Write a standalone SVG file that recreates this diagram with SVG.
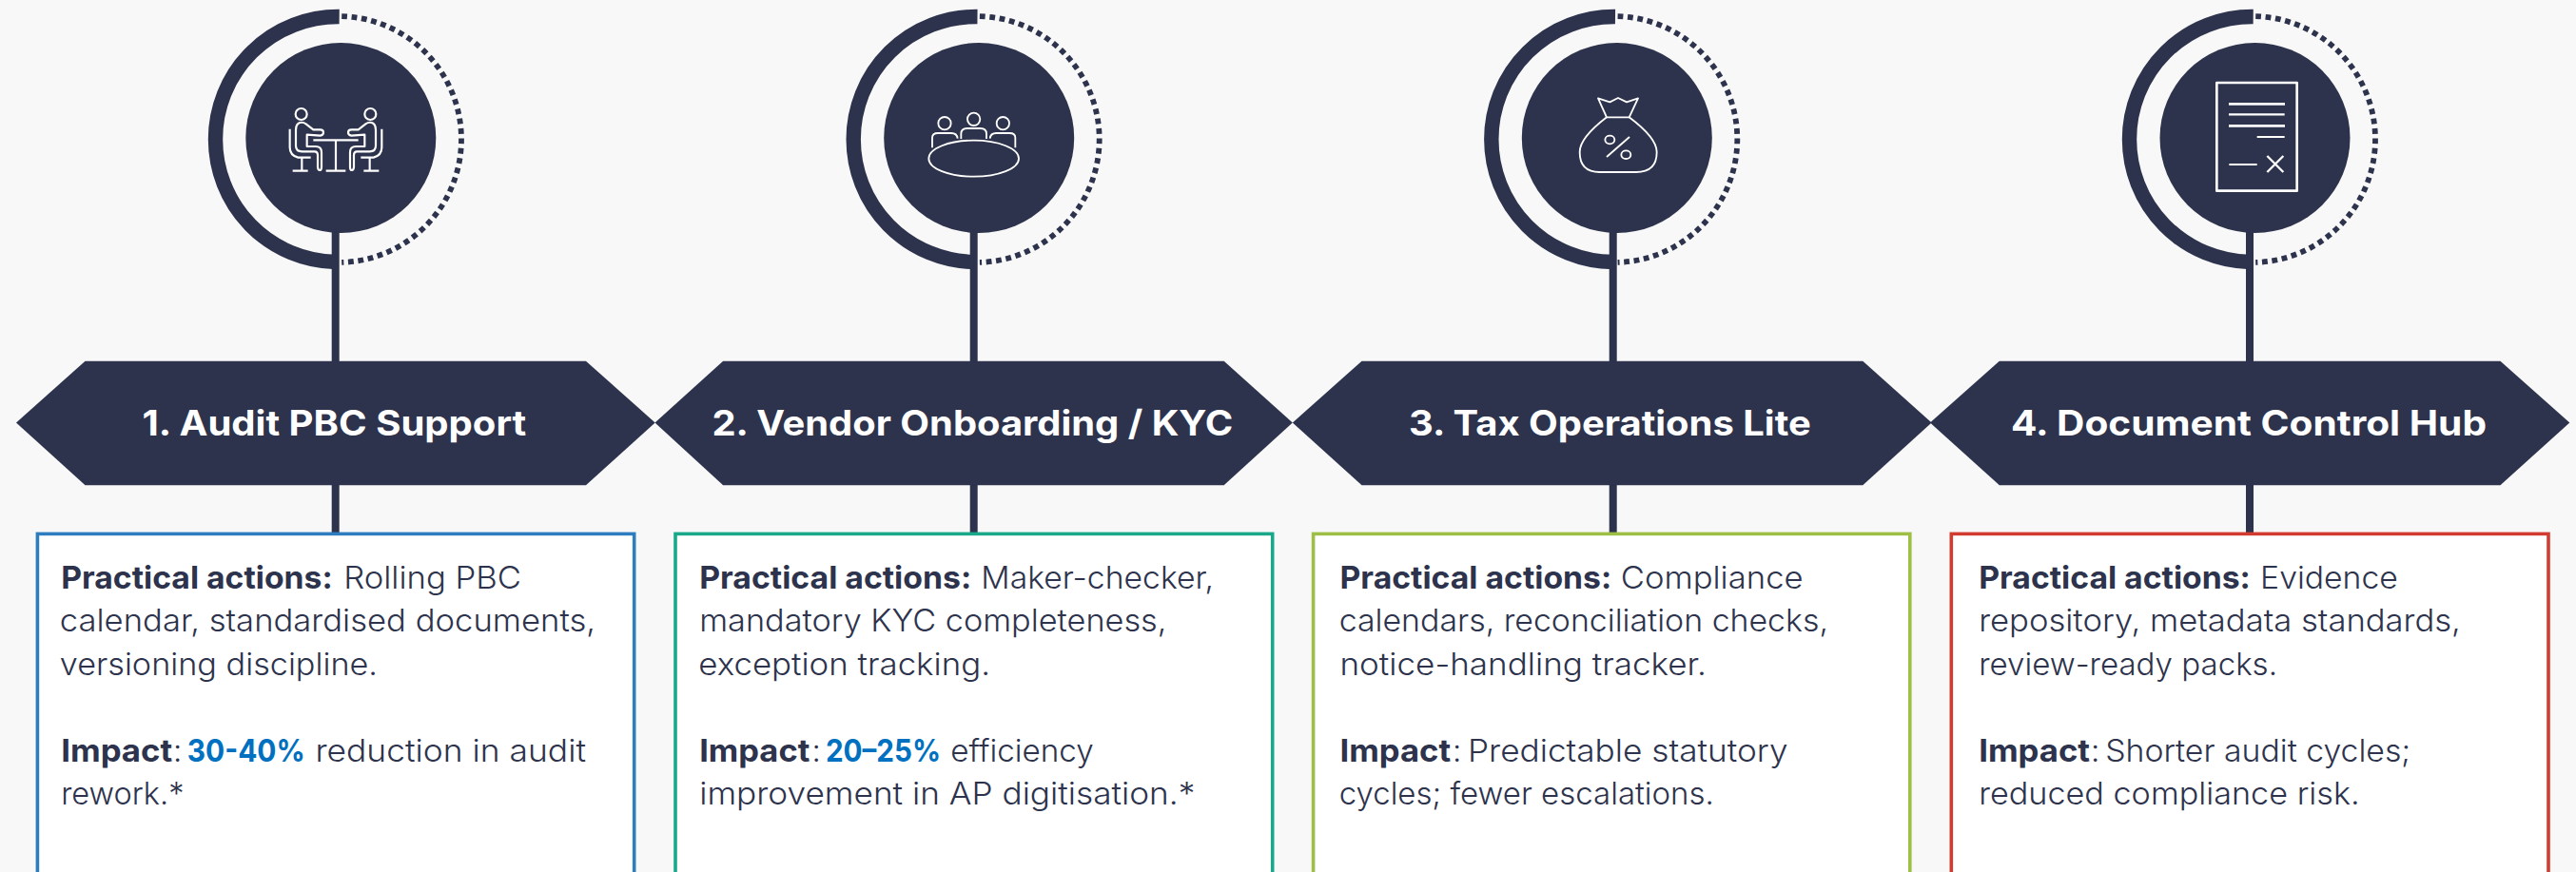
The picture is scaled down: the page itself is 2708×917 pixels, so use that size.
<svg xmlns="http://www.w3.org/2000/svg" width="2708" height="917" viewBox="0 0 2708 917">
<defs>
<style>
text{font-family:"Inter","Liberation Sans",sans-serif;fill:#2d334c}
.t{font-size:37px;font-weight:700;fill:#fff;transform:translateX(-1px)}
.b{font-size:33px;font-weight:300;transform:translateX(-1.5px)}
.s{font-weight:700}
.v{font-weight:700;fill:#0070c0}
.hex,.disc{fill:#2d334c}
.ring{fill:none;stroke:#2d334c;stroke-width:15.4}
.dots{fill:none;stroke:#2d334c;stroke-width:5.8;stroke-dasharray:5.8 4.65}
.stem{stroke:#2d334c;stroke-width:8;fill:none}
.ico{fill:none;stroke:#fff;stroke-width:6.5;stroke-linejoin:round;stroke-linecap:butt}
.box{fill:#fff;stroke-width:3.6}
</style>
</defs>
<rect width="2708" height="917" fill="#f8f8f8"/>
<g id="connectors">
<path class="stem" d="M352.7 240V560"/>
<path class="stem" d="M1023.7 240V560"/>
<path class="stem" d="M1695.7 240V560"/>
<path class="stem" d="M2365 240V560"/>
</g>
<g id="node-1">
<path class="ring" d="M356.7 17.5A129 129 0 0 0 226.5 146.5A129 129 0 0 0 352.7 275.5"/>
<path class="dots" d="M359.2 17.05A129.5 129.5 0 0 1 485 146.5A129.5 129.5 0 0 1 359.2 275.95"/>
<circle class="disc" cx="358.3" cy="145" r="100"/>
<g transform="translate(200 0) scale(.33333)" class="ico">
<g id="sitter">
<circle cx="350" cy="360" r="18"/>
<path d="M368 425L410 428Q420 427 420 418Q420 409 410 409L388 409L365 391Q352 382 340 390Q333 396 333 410L333 460Q333 478 352 478L392 478Q402 478 402 490L402 527Q403 537 408 537Q414 537 414 527L414 480Q414 462 395 462L368 462L368 425Z"/>
<path d="M314 407L314 465Q314 490 340 497L380 497M352 497L352 538M323 539L371 539"/>
</g>
<use href="#sitter" transform="matrix(-1 0 0 1 918 0)"/>
<path d="M388 442L530 442M459 442L459 538M428 539L490 539"/>
</g>
<polygon class="hex" points="17,444.5 89.5,379.8 616,379.8 688.7,444.5 616,510.2 89.5,510.2"/>
<text class="t" y="457.7"><tspan x="150.6" textLength="403.6" lengthAdjust="spacingAndGlyphs">1. Audit PBC Support</tspan></text>
<rect class="box" stroke="#2e7ebf" x="39.4" y="561.4" width="627.3" height="380"/>
<text class="b" y="618.6"><tspan class="s" x="65.7" textLength="285.5" lengthAdjust="spacingAndGlyphs">Practical actions:</tspan> <tspan x="362.7" textLength="186.9" lengthAdjust="spacingAndGlyphs">Rolling PBC</tspan></text>
<text class="b" y="664.4" x="64.3" textLength="563.3" lengthAdjust="spacingAndGlyphs">calendar, standardised documents,</text>
<text class="b" y="710" x="64.3" textLength="334.2" lengthAdjust="spacingAndGlyphs">versioning discipline.</text>
<text class="b" y="800.5"><tspan class="s" x="65.7" textLength="117" lengthAdjust="spacingAndGlyphs">Impact</tspan><tspan x="183.6">:</tspan> <tspan class="v" x="198.3" textLength="124" lengthAdjust="spacingAndGlyphs">30-40%</tspan> <tspan x="332.9" textLength="284.6" lengthAdjust="spacingAndGlyphs">reduction in audit</tspan></text>
<text class="b" y="845.6" x="65.7" textLength="129.3" lengthAdjust="spacingAndGlyphs">rework.*</text>
</g>
<g id="node-2">
<path class="ring" d="M1027.5 17.5A129 129 0 0 0 897.2 146.5A129 129 0 0 0 1023.7 275.5"/>
<path class="dots" d="M1029.9 17.05A129.5 129.5 0 0 1 1155.7 146.5A129.5 129.5 0 0 1 1029.9 275.95"/>
<circle class="disc" cx="1029.2" cy="145" r="100"/>
<g transform="translate(880 0) scale(.33333)" class="ico" style="stroke-width:5.5">
<circle cx="339" cy="389" r="20"/><circle cx="431" cy="376" r="20"/><circle cx="523" cy="389" r="20"/>
<ellipse cx="431" cy="500" rx="142" ry="57"/>
<path d="M300 466L300 435Q300 420 318 420L360 420Q378 420 380 437M391 438L391 422Q391 405 410 405L452 405Q471 405 471 422L471 438M562 466L562 435Q562 420 544 420L502 420Q484 420 482 437"/>
</g>
<polygon class="hex" points="688.5,444.5 760.1,379.8 1286.7,379.8 1358.8,444.5 1286.7,510.2 760.1,510.2"/>
<text class="t" y="457.7"><tspan x="749.5" textLength="547.8" lengthAdjust="spacingAndGlyphs">2. Vendor Onboarding / KYC</tspan></text>
<rect class="box" stroke="#1aa88a" x="710" y="561.4" width="627.7" height="380"/>
<text class="b" y="618.6"><tspan class="s" x="736.7" textLength="286" lengthAdjust="spacingAndGlyphs">Practical actions:</tspan> <tspan x="1032.8" textLength="244.7" lengthAdjust="spacingAndGlyphs">Maker-checker,</tspan></text>
<text class="b" y="664.4" x="736.7" textLength="491.3" lengthAdjust="spacingAndGlyphs">mandatory KYC completeness,</text>
<text class="b" y="710" x="735.8" textLength="306.7" lengthAdjust="spacingAndGlyphs">exception tracking.</text>
<text class="b" y="800.5"><tspan class="s" x="736.7" textLength="116.1" lengthAdjust="spacingAndGlyphs">Impact</tspan><tspan x="855">:</tspan> <tspan class="v" x="869.4" textLength="121.2" lengthAdjust="spacingAndGlyphs">20–25%</tspan> <tspan x="1000.7" textLength="150.6" lengthAdjust="spacingAndGlyphs">efficiency</tspan></text>
<text class="b" y="845.6" x="736.7" textLength="521.1" lengthAdjust="spacingAndGlyphs">improvement in AP digitisation.*</text>
</g>
<g id="node-3">
<path class="ring" d="M1698 17.5A129 129 0 0 0 1567.8 146.5A129 129 0 0 0 1695.7 275.5"/>
<path class="dots" d="M1700.6 17.05A129.5 129.5 0 0 1 1826.3 146.5A129.5 129.5 0 0 1 1700.6 275.95"/>
<circle class="disc" cx="1699.8" cy="145" r="100"/>
<g transform="translate(1550 0) scale(.33333)" class="ico" style="stroke-width:5.5">
<path d="M417 370L390 310L427 322L453 309L480 322L516 310L488 370Z"/>
<path d="M417 370Q332 435 332 480Q332 543 395 543L510 543Q575 543 575 480Q575 435 488 370"/>
<ellipse cx="427" cy="441" rx="15" ry="13"/><ellipse cx="478" cy="488" rx="15" ry="13"/>
<path d="M417 495L489 432"/>
</g>
<polygon class="hex" points="1358.8,444.5 1431.5,379.8 1958.3,379.8 2030.6,444.5 1958.3,510.2 1431.5,510.2"/>
<text class="t" y="457.7"><tspan x="1482" textLength="422.7" lengthAdjust="spacingAndGlyphs">3. Tax Operations Lite</tspan></text>
<rect class="box" stroke="#9dbf45" x="1380.6" y="561.4" width="627.2" height="380"/>
<text class="b" y="618.6"><tspan class="s" x="1410" textLength="285.8" lengthAdjust="spacingAndGlyphs">Practical actions:</tspan> <tspan x="1705.2" textLength="191.9" lengthAdjust="spacingAndGlyphs">Compliance</tspan></text>
<text class="b" y="664.4" x="1409.2" textLength="514.3" lengthAdjust="spacingAndGlyphs">calendars, reconciliation checks,</text>
<text class="b" y="710" x="1410" textLength="385.4" lengthAdjust="spacingAndGlyphs">notice-handling tracker.</text>
<text class="b" y="800.5"><tspan class="s" x="1410" textLength="116.6" lengthAdjust="spacingAndGlyphs">Impact</tspan><tspan x="1528.5">:</tspan> <tspan x="1544.5" textLength="336.5" lengthAdjust="spacingAndGlyphs">Predictable statutory</tspan></text>
<text class="b" y="845.6" x="1409.2" textLength="394.2" lengthAdjust="spacingAndGlyphs">cycles; fewer escalations.</text>
</g>
<g id="node-4">
<path class="ring" d="M2368.7 17.5A129 129 0 0 0 2238.5 146.5A129 129 0 0 0 2365 275.5"/>
<path class="dots" d="M2371.2 17.05A129.5 129.5 0 0 1 2497 146.5A129.5 129.5 0 0 1 2371.2 275.95"/>
<circle class="disc" cx="2370.5" cy="145" r="100"/>
<g transform="translate(2220 0) scale(.33333)" class="ico">
<rect x="331" y="261" width="253" height="341" style="stroke-width:8"/>
<path style="stroke-width:8" d="M369 328L546 328M369 397L546 397"/>
<path style="stroke-width:6.5" d="M369 361L545 361M458 432L545 432M370 519L458 519"/>
<path style="stroke-width:7" d="M490 492L541 543M541 492L490 543"/>
</g>
<polygon class="hex" points="2029,444.5 2101.8,379.8 2628.5,379.8 2701.3,444.5 2628.5,510.2 2101.8,510.2"/>
<text class="t" y="457.7"><tspan x="2115" textLength="500" lengthAdjust="spacingAndGlyphs">4. Document Control Hub</tspan></text>
<rect class="box" stroke="#d23c30" x="2051.3" y="561.4" width="627.7" height="380"/>
<text class="b" y="618.6"><tspan class="s" x="2081.7" textLength="285.7" lengthAdjust="spacingAndGlyphs">Practical actions:</tspan> <tspan x="2377.6" textLength="144.7" lengthAdjust="spacingAndGlyphs">Evidence</tspan></text>
<text class="b" y="664.4" x="2081.7" textLength="506.7" lengthAdjust="spacingAndGlyphs">repository, metadata standards,</text>
<text class="b" y="710" x="2081.7" textLength="313.8" lengthAdjust="spacingAndGlyphs">review-ready packs.</text>
<text class="b" y="800.5"><tspan class="s" x="2081.7" textLength="116.9" lengthAdjust="spacingAndGlyphs">Impact</tspan><tspan x="2199.5">:</tspan> <tspan x="2214.7" textLength="321" lengthAdjust="spacingAndGlyphs">Shorter audit cycles;</tspan></text>
<text class="b" y="845.6" x="2081.7" textLength="400.4" lengthAdjust="spacingAndGlyphs">reduced compliance risk.</text>
</g>
</svg>
